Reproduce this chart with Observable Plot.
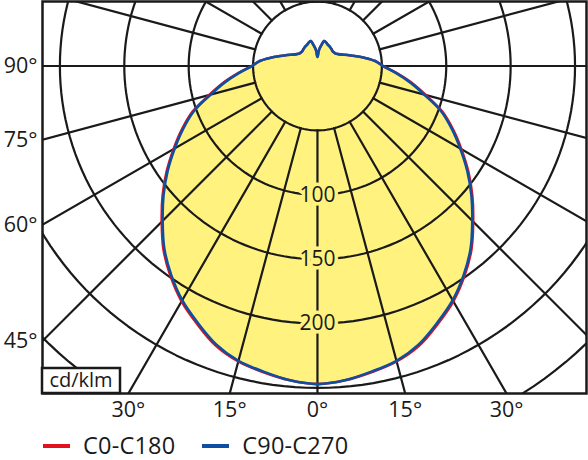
<!DOCTYPE html>
<html>
<head>
<meta charset="utf-8">
<script src="https://cdn.jsdelivr.net/npm/d3@7"></script>
<script src="https://cdn.jsdelivr.net/npm/@observablehq/plot@0.6"></script>
<style>
  html, body { margin: 0; padding: 0; background: #fff; }
  body { width: 588px; height: 460px; overflow: hidden; font-family: "Open Sans", sans-serif; }
  #chart { height: 426px; }
  #chart svg { display: block; }
  #legend { box-sizing: content-box; height: 28px; padding-top: 6px; display: flex; align-items: center; font-size: 23.5px; line-height: 1; color: #1a1a1a; letter-spacing: 0.2px; }
  #legend .item { display: flex; align-items: center; }
  #legend .sw { display: inline-block; width: 27px; height: 4px; margin-right: 13px; }
</style>
</head>
<body>
<div id="chart"></div>
<div id="legend"></div>
<script>
// ---- data ----
const gamma = [0,5,10,15,20,25,30,35,40,45,50,55,60,65,70,75,80,85,90,95,100,105,110,115,120,125,130,135,140,145,150,155,160,165,170,175,180];
const c0c180  = [247,245,241.5,237.5,231,221,211,199,186,171,157,143,129,116,103,87,74,61.5,51,45,37,30,25,21,18.5,17,16.5,16.5,17,17.5,18,18.5,19.5,20,16,12,7];
const c90c270 = [247,245,241,237,230,220,210,198,185,170,156,142,128,115,102,86,73,61,51,45,37,30,25,21,18.5,17,16.5,16.5,17,17.5,18,18.5,19.5,20,16,12,7];
const seriesNames = ["C0-C180", "C90-C270"];
const seriesColors = ["#e3101e", "#0d4fa2"];
const circleValues = [50, 100, 150, 200, 250, 300];
const circleLabelValues = [100, 150, 200];
const spokeAngles = d3.range(0, 360, 15);
const leftTickAngles = [90, 75, 60, 45];
const leftTickLabels = ["90°", "75°", "60°", "45°"];
const bottomTickAngles = [-30, -15, 0, 15, 30];
const bottomTickLabels = ["30°", "15°", "0°", "15°", "30°"];
const unitLabel = "cd/klm";

// ---- scale domains (cd/klm units, centre of lamp at 0,0) ----
const xMin = -213.5, xMax = 208.9, yMin = -254.3, yMax = 50.1;
const rad = d => d * Math.PI / 180;
const yellow = "#fff27f";
const ink = "#1a1a1a";

// polar -> cartesian ; angle measured from nadir, left side negative x
function profile(vals) {
  const pts = [];
  for (let i = gamma.length - 1; i >= 0; i--) pts.push({x: -vals[i] * Math.sin(rad(gamma[i])), y: -vals[i] * Math.cos(rad(gamma[i]))});
  for (let i = 1; i < gamma.length - 1; i++) pts.push({x: vals[i] * Math.sin(rad(gamma[i])), y: -vals[i] * Math.cos(rad(gamma[i]))});
  return pts;
}
const redPts = profile(c0c180);
const bluePts = profile(c90c270);

const circlePts = circleValues.flatMap(v => d3.range(0, 361, 2).map(a => ({v, x: v * Math.sin(rad(a)), y: -v * Math.cos(rad(a))})));
const spokePts = spokeAngles.flatMap(a => [50, 480].map(r => ({a, x: r * Math.sin(rad(a)), y: -r * Math.cos(rad(a))})));
const leftTicks = leftTickAngles.map((a, i) => ({x: xMin, y: xMin * Math.cos(rad(a)) / Math.sin(rad(a)), label: leftTickLabels[i]}));
const bottomTicks = bottomTickAngles.map((a, i) => ({x: -yMin * Math.tan(rad(a)), y: yMin, label: bottomTickLabels[i]}));
const circleLabels = circleLabelValues.map(v => ({x: 0, y: -v, label: String(v)}));

function unitBox(index, scales, values, dims) {
  const g = d3.create("svg:g");
  const x0 = dims.marginLeft, y1 = dims.height - dims.marginBottom;
  g.append("rect").attr("x", x0).attr("y", y1 - 25).attr("width", 78).attr("height", 25)
    .attr("fill", "#fff").attr("stroke", ink).attr("stroke-width", 2.5);
  g.append("text").attr("x", x0 + 39).attr("y", y1 - 6).attr("text-anchor", "middle")
    .attr("font-size", 20).attr("fill", ink).text(unitLabel);
  return g.node();
}

const plot = Plot.plot({
  width: 588,
  height: 426,
  marginLeft: 42,
  marginRight: 2,
  marginTop: 1,
  marginBottom: 33,
  x: {domain: [xMin, xMax], axis: null},
  y: {domain: [yMin, yMax], axis: null},
  style: {fontFamily: "Open Sans", background: "#fff", overflow: "visible"},
  marks: [
    Plot.line(bluePts, {x: "x", y: "y", fill: yellow, stroke: "none", curve: "catmull-rom-closed"}),
    Plot.line(circlePts, {x: "x", y: "y", z: "v", stroke: ink, strokeWidth: 2.2, clip: true}),
    Plot.line(spokePts, {x: "x", y: "y", z: "a", stroke: ink, strokeWidth: 2.2, clip: true}),
    Plot.line(redPts, {x: "x", y: "y", stroke: seriesColors[0], strokeWidth: 2.6, curve: "catmull-rom-closed"}),
    Plot.line(bluePts, {x: "x", y: "y", stroke: seriesColors[1], strokeWidth: 2.6, curve: "catmull-rom-closed"}),
    Plot.text(circleLabels, {x: "x", y: "y", text: "label", fontSize: 21, fill: ink, stroke: yellow, strokeWidth: 7, paintOrder: "stroke"}),
    Plot.frame({stroke: ink, strokeWidth: 2.5}),
    unitBox,
    Plot.text(leftTicks, {x: "x", y: "y", text: "label", fontSize: 21.5, fill: ink, textAnchor: "end", dx: -5}),
    Plot.text(bottomTicks, {x: "x", y: "y", text: "label", fontSize: 21.5, fill: ink, dy: 17})
  ]
});
document.getElementById("chart").appendChild(plot);

const legend = document.getElementById("legend");
seriesNames.forEach((name, i) => {
  const item = document.createElement("span");
  item.className = "item";
  item.style.marginLeft = i === 0 ? "43px" : "27px";
  const sw = document.createElement("span");
  sw.className = "sw";
  sw.style.background = seriesColors[i];
  item.appendChild(sw);
  item.appendChild(document.createTextNode(name));
  legend.appendChild(item);
});
</script>
</body>
</html>
